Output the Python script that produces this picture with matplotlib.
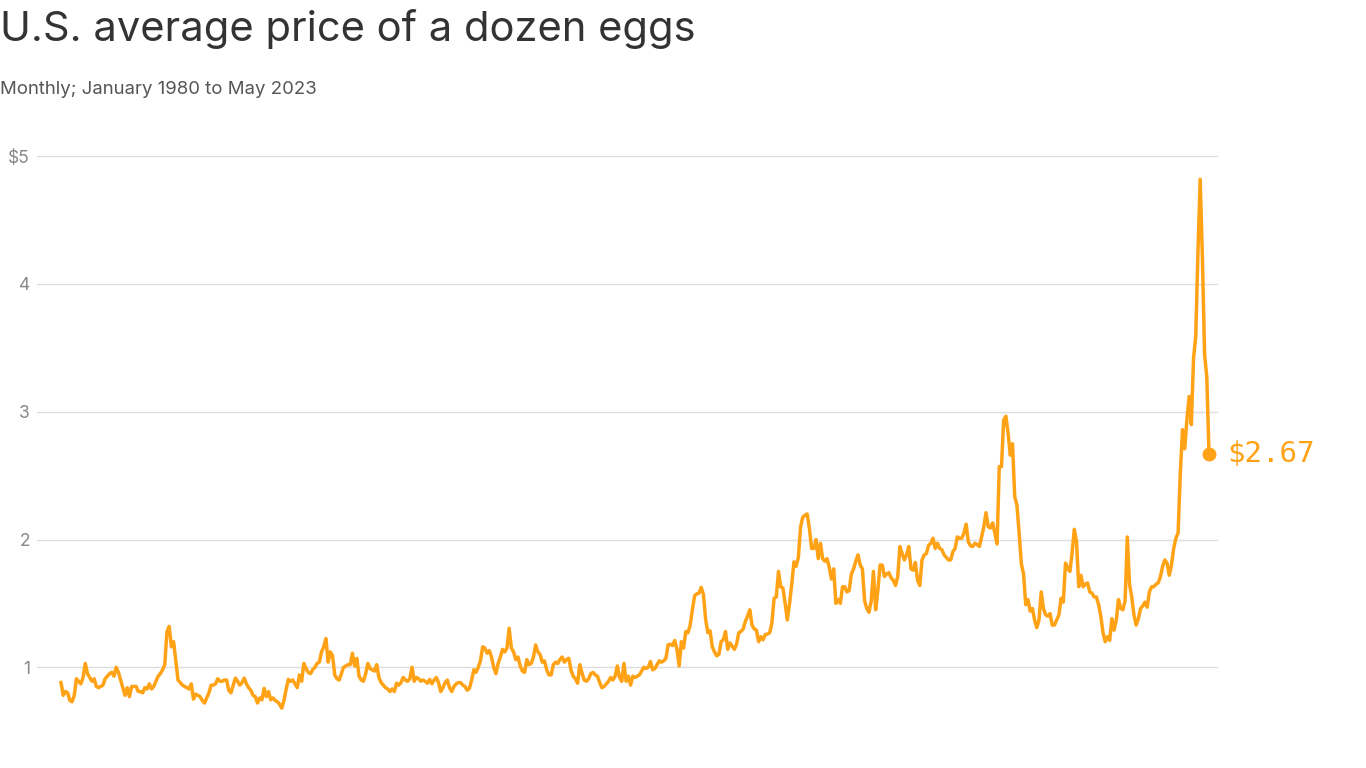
import numpy as np
import matplotlib
matplotlib.use("Agg")
import matplotlib.pyplot as plt

# monthly average price of a dozen grade A large eggs, Jan 1980 - May 2023
p1980 = [0.88, 0.78, 0.81, 0.80, 0.74, 0.73, 0.78, 0.91, 0.89, 0.87, 0.92, 1.03]
p1981 = [0.95, 0.92, 0.89, 0.91, 0.85, 0.84, 0.85, 0.86, 0.91, 0.93, 0.95, 0.96]
p1982 = [0.93, 1.00, 0.96, 0.90, 0.84, 0.78, 0.84, 0.77, 0.85, 0.85, 0.85, 0.81]
p1983 = [0.81, 0.80, 0.84, 0.83, 0.87, 0.83, 0.85, 0.89, 0.93, 0.95, 0.98, 1.02]
p1984 = [1.28, 1.32, 1.16, 1.20, 1.05, 0.90, 0.88, 0.86, 0.85, 0.84, 0.83, 0.87]
p1985 = [0.75, 0.79, 0.78, 0.77, 0.74, 0.72, 0.76, 0.80, 0.86, 0.86, 0.87, 0.91]
p1986 = [0.89, 0.89, 0.90, 0.90, 0.82, 0.80, 0.86, 0.915, 0.89, 0.86, 0.88, 0.915]
p1987 = [0.87, 0.84, 0.82, 0.78, 0.77, 0.72, 0.76, 0.745, 0.835, 0.77, 0.81, 0.745]
p1988 = [0.76, 0.74, 0.73, 0.71, 0.68, 0.74, 0.83, 0.905, 0.89, 0.90, 0.87, 0.84]
p1989 = [0.94, 0.89, 1.03, 0.99, 0.96, 0.95, 0.98, 1.00, 1.03, 1.04, 1.12, 1.16]
p1990 = [1.225, 1.04, 1.12, 1.09, 0.94, 0.91, 0.90, 0.95, 1.00, 1.01, 1.02, 1.02]
p1991 = [1.11, 1.01, 1.07, 0.93, 0.90, 0.89, 0.95, 1.03, 0.99, 0.98, 0.97, 1.02]
p1992 = [0.92, 0.88, 0.86, 0.84, 0.83, 0.81, 0.83, 0.81, 0.875, 0.86, 0.88, 0.92]
p1993 = [0.90, 0.89, 0.91, 1.00, 0.89, 0.92, 0.91, 0.89, 0.90, 0.89, 0.875, 0.905]
p1994 = [0.87, 0.90, 0.92, 0.88, 0.81, 0.84, 0.88, 0.90, 0.84, 0.81, 0.85, 0.87]
p1995 = [0.88, 0.88, 0.86, 0.85, 0.82, 0.835, 0.90, 0.98, 0.96, 1.00, 1.05, 1.16]
p1996 = [1.15, 1.11, 1.13, 1.08, 1.00, 0.95, 1.03, 1.08, 1.14, 1.12, 1.15, 1.305]
p1997 = [1.15, 1.12, 1.06, 1.08, 1.01, 0.97, 0.96, 1.06, 1.02, 1.03, 1.08, 1.175]
p1998 = [1.12, 1.10, 1.04, 1.05, 0.98, 0.94, 0.94, 1.02, 1.04, 1.03, 1.06, 1.08]
p1999 = [1.04, 1.06, 1.07, 0.98, 0.93, 0.91, 0.875, 1.02, 0.955, 0.90, 0.89, 0.91]
p2000 = [0.95, 0.96, 0.94, 0.93, 0.88, 0.84, 0.85, 0.87, 0.89, 0.92, 0.90, 0.93]
p2001 = [1.01, 0.92, 0.89, 1.03, 0.89, 0.93, 0.86, 0.93, 0.92, 0.93, 0.94, 0.97]
p2002 = [1.00, 0.99, 1.00, 1.045, 0.98, 0.99, 1.02, 1.05, 1.04, 1.05, 1.07, 1.175]
p2003 = [1.18, 1.17, 1.21, 1.14, 1.01, 1.20, 1.15, 1.28, 1.27, 1.33, 1.45, 1.56]
p2004 = [1.575, 1.58, 1.625, 1.57, 1.375, 1.27, 1.285, 1.16, 1.12, 1.09, 1.10, 1.20]
p2005 = [1.215, 1.28, 1.14, 1.19, 1.165, 1.14, 1.18, 1.27, 1.28, 1.30, 1.36, 1.40]
p2006 = [1.45, 1.33, 1.30, 1.29, 1.20, 1.24, 1.215, 1.255, 1.26, 1.27, 1.345, 1.54]
p2007 = [1.55, 1.75, 1.63, 1.62, 1.50, 1.37, 1.50, 1.65, 1.825, 1.79, 1.86, 2.10]
p2008 = [2.175, 2.19, 2.20, 2.085, 1.93, 1.93, 2.00, 1.85, 1.97, 1.85, 1.83, 1.85]
p2009 = [1.78, 1.69, 1.77, 1.50, 1.53, 1.50, 1.63, 1.63, 1.59, 1.60, 1.73, 1.77]
p2010 = [1.83, 1.88, 1.80, 1.77, 1.52, 1.46, 1.43, 1.52, 1.75, 1.45, 1.60, 1.80]
p2011 = [1.80, 1.71, 1.73, 1.74, 1.70, 1.68, 1.64, 1.71, 1.945, 1.89, 1.84, 1.88]
p2012 = [1.945, 1.77, 1.76, 1.82, 1.68, 1.64, 1.84, 1.88, 1.89, 1.955, 1.97, 2.01]
p2013 = [1.93, 1.97, 1.93, 1.92, 1.88, 1.86, 1.84, 1.84, 1.905, 1.93, 2.02, 2.01]
p2014 = [2.01, 2.05, 2.12, 1.98, 1.95, 1.945, 1.97, 1.96, 1.945, 2.02, 2.10, 2.21]
p2015 = [2.10, 2.09, 2.13, 2.05, 1.965, 2.57, 2.57, 2.935, 2.965, 2.83, 2.66, 2.75]
p2016 = [2.335, 2.27, 2.05, 1.81, 1.73, 1.49, 1.53, 1.44, 1.46, 1.37, 1.31, 1.37]
p2017 = [1.59, 1.46, 1.41, 1.40, 1.42, 1.33, 1.33, 1.37, 1.41, 1.54, 1.51, 1.815]
p2018 = [1.775, 1.75, 1.90, 2.08, 1.98, 1.63, 1.72, 1.63, 1.65, 1.66, 1.59, 1.58]
p2019 = [1.55, 1.55, 1.49, 1.40, 1.27, 1.20, 1.24, 1.21, 1.38, 1.29, 1.37, 1.53]
p2020 = [1.46, 1.45, 1.52, 2.02, 1.65, 1.55, 1.41, 1.33, 1.38, 1.46, 1.48, 1.51]
p2021 = [1.47, 1.59, 1.63, 1.63, 1.65, 1.66, 1.71, 1.79, 1.84, 1.815, 1.72, 1.80]
p2022 = [1.93, 2.01, 2.05, 2.52, 2.86, 2.71, 2.94, 3.12, 2.90, 3.42, 3.59, 4.25]
p2023 = [4.82, 4.21, 3.45, 3.27, 2.67]

prices = (p1980 + p1981 + p1982 + p1983 + p1984 + p1985 + p1986 + p1987 + p1988 + p1989
          + p1990 + p1991 + p1992 + p1993 + p1994 + p1995 + p1996 + p1997 + p1998 + p1999
          + p2000 + p2001 + p2002 + p2003 + p2004 + p2005 + p2006 + p2007 + p2008 + p2009
          + p2010 + p2011 + p2012 + p2013 + p2014 + p2015 + p2016 + p2017 + p2018 + p2019
          + p2020 + p2021 + p2022 + p2023)
months = np.arange(len(prices))

y_ticks = [1, 2, 3, 4, 5]
y_labels = ["1", "2", "3", "4", "$5"]

title = "U.S. average price of a dozen eggs"
subtitle = "Monthly; January 1980 to May 2023"

#%% style
orange = "#ffa216"
W, H = 1366, 768
fig = plt.figure(figsize=(W / 100, H / 100), dpi=100)
fig.patch.set_facecolor("white")

# axes box in pixels: gridlines run from x=37 to x=1218
ax_l, ax_r, ax_t, ax_b = 37, 1218, 140, 725
ax = fig.add_axes([ax_l / W, 1 - ax_b / H, (ax_r - ax_l) / W, (ax_b - ax_t) / H])

px_per_month = (1209 - 61) / (len(prices) - 1)
ax.set_xlim(-(61 - ax_l) / px_per_month, (len(prices) - 1) + (ax_r - 1209) / px_per_month)
px_per_dollar = 127.75
ax.set_ylim((795 - ax_b) / px_per_dollar, (795 - ax_t) / px_per_dollar)

ax.plot(months, prices, color=orange, linewidth=2.5, solid_joinstyle="round", zorder=3)
ax.plot(months[-1], prices[-1], "o", color=orange, markersize=9, zorder=4)
ax.annotate("$%.2f" % prices[-1], (months[-1], prices[-1]), xytext=(13, 0),
            textcoords="offset points", va="center", ha="left", color=orange,
            fontsize=21, family="DejaVu Sans Mono")

ax.set_yticks(y_ticks)
ax.set_yticklabels(y_labels)
ax.yaxis.grid(True, color="#dddddd", linewidth=1)
ax.set_axisbelow(True)
ax.set_xticks([])
ax.tick_params(axis="y", length=0, pad=5, labelcolor="#888888", labelsize=12.5)
for lab in ax.get_yticklabels():
    lab.set_family("Inter")
for s in ax.spines.values():
    s.set_visible(False)

fig.text(0.0, 1 - 29 / H, title, fontsize=30, color="#333333", family="Inter",
         va="center", ha="left")
fig.text(0.0, 1 - 90 / H, subtitle, fontsize=13.4, color="#555555", family="Inter",
         va="center", ha="left")

fig.savefig("out.png", dpi=100)
